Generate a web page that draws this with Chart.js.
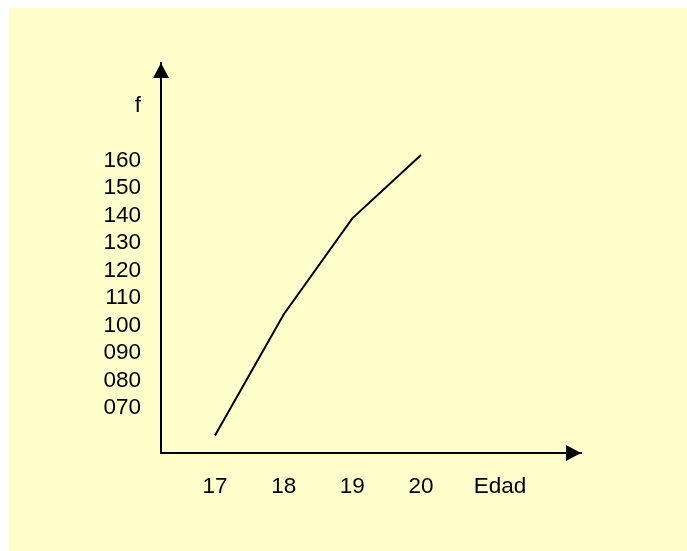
<!DOCTYPE html>
<html>
<head>
<meta charset="utf-8">
<script src="https://cdn.jsdelivr.net/npm/chart.js@4"></script>
<style>
  html, body { margin: 0; padding: 0; background: #fff; }
  #wrap { width: 687px; height: 551px; }
</style>
</head>
<body>
<div id="wrap"><canvas></canvas></div>
<script>
const edades = [17, 18, 19, 20]
const frecuencias = [60, 104, 139, 162]
const yTicks = [70, 80, 90, 100, 110, 120, 130, 140, 150, 160]
const yTitle = 'f'
const xTitle = 'Edad'

// position of the axis names along the scales
const yTitleAt = 180
const xTitleAt = 21.15

const fondo = {
  id: 'fondo',
  beforeDraw(chart) {
    const ctx = chart.ctx
    ctx.save()
    ctx.fillStyle = '#ffffcc'
    ctx.fillRect(9, 8, chart.width - 9, chart.height - 8)
    ctx.restore()
  }
}

const flechas = {
  id: 'flechas',
  afterDraw(chart) {
    const a = chart.chartArea
    const ctx = chart.ctx
    ctx.save()
    ctx.fillStyle = '#000'
    ctx.beginPath()
    ctx.moveTo(a.left, a.top)
    ctx.lineTo(a.left - 8, a.top + 15)
    ctx.lineTo(a.left + 8, a.top + 15)
    ctx.closePath()
    ctx.fill()
    ctx.beginPath()
    ctx.moveTo(a.right, a.bottom)
    ctx.lineTo(a.right - 15, a.bottom - 8)
    ctx.lineTo(a.right - 15, a.bottom + 8)
    ctx.closePath()
    ctx.fill()
    ctx.restore()
  }
}

const font = { family: '"Liberation Sans", Arial, sans-serif', size: 22.5 }

new Chart(document.querySelector('canvas'), {
  type: 'line',
  data: {
    datasets: [{
      data: edades.map((e, i) => ({ x: e, y: frecuencias[i] })),
      borderColor: '#000',
      borderWidth: 2,
      pointRadius: 0,
      tension: 0,
      fill: false
    }]
  },
  options: {
    responsive: true,
    maintainAspectRatio: false,
    animation: false,
    layout: { padding: { top: 63, right: 106, left: 0, bottom: 0 } },
    plugins: { legend: { display: false }, tooltip: { enabled: false } },
    scales: {
      x: {
        type: 'linear',
        min: 16.214,
        max: 22.33,
        afterBuildTicks: s => { s.ticks = edades.concat([xTitleAt]).map(v => ({ value: v })) },
        afterFit: s => { s.height = 98 },
        grid: { display: false, drawTicks: false },
        border: { display: true, color: '#000', width: 2 },
        ticks: {
          autoSkip: false,
          maxRotation: 0,
          padding: 20,
          color: '#000',
          font,
          callback: v => v === xTitleAt ? xTitle : String(v)
        }
      },
      y: {
        type: 'linear',
        min: 53.62,
        max: 195.5,
        afterBuildTicks: s => { s.ticks = yTicks.concat([yTitleAt]).map(v => ({ value: v })) },
        afterFit: s => { s.width = 161 },
        grid: { display: false, drawTicks: false },
        border: { display: true, color: '#000', width: 2 },
        ticks: {
          autoSkip: false,
          padding: 20,
          color: '#000',
          font,
          callback: v => v === yTitleAt ? yTitle : String(v).padStart(3, '0')
        }
      }
    }
  },
  plugins: [fondo, flechas]
})
</script>
</body>
</html>
